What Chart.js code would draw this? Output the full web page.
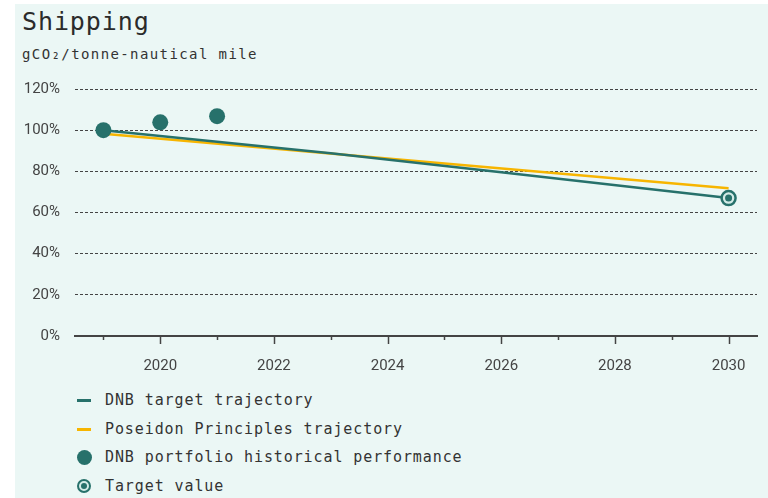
<!DOCTYPE html>
<html>
<head>
<meta charset="utf-8">
<script src="https://cdn.jsdelivr.net/npm/chart.js@4/dist/chart.umd.min.js"></script>
<style>
  html, body { margin: 0; padding: 0; background: #fff; }
  body { width: 768px; height: 498px; position: relative; overflow: hidden; }
  .panel { position: absolute; left: 15px; top: 4px; width: 753px; height: 494px; background: #ebf7f5; }
  .mono { font-family: "DejaVu Sans Mono", monospace; color: #2b2b2b; }
  .title { position: absolute; left: 7px; top: 3px; font-size: 25px; letter-spacing: 0.9px; }
  .sub { position: absolute; left: 7px; top: 42px; font-size: 14px; letter-spacing: 1.4px; color: #333; }
  .chartbox { position: absolute; left: 0; top: 61px; width: 753px; height: 317px; }
  .legend { position: absolute; left: 62px; top: 382px; }
  .legend div { position: relative; height: 28.7px; line-height: 28.7px; padding-left: 28px; font-size: 15px; letter-spacing: 0.9px; color: #333; }
  .legend i { position: absolute; left: 0; top: 50%; display: block; }
  .ln { width: 14px; height: 3px; margin-top: -1.5px; }
  .dot { width: 15px; height: 15px; margin-top: -7.5px; left: 0 !important; border-radius: 50%; }
  .ring { width: 10px; height: 10px; margin-top: -7.5px; border-radius: 50%; border: 2.5px solid #27716b; background: #d3ebe7; }
  .ring::after { content: ""; position: absolute; left: 2px; top: 2px; width: 6px; height: 6px; border-radius: 50%; background: #27716b; }
</style>
</head>
<body>
<div class="panel">
  <div class="title mono">Shipping</div>
  <div class="sub mono">gCO₂/tonne-nautical mile</div>
  <div class="chartbox"><canvas id="c"></canvas></div>
  <div class="legend mono">
    <div><i class="ln" style="background:#27716b"></i>DNB target trajectory</div>
    <div><i class="ln" style="background:#f7b500"></i>Poseidon Principles trajectory</div>
    <div><i class="dot" style="background:#27716b"></i>DNB portfolio historical performance</div>
    <div><i class="ring"></i>Target value</div>
  </div>
</div>
<script>
var teal = '#27716b';
var yellow = '#f7b500';

// DNB target trajectory (% of 2019 level)
var targetYears = [2019, 2023, 2026, 2030];
var targetValues = [100, 88.8, 79.5, 67];

// Poseidon Principles trajectory
var poseidonYears = [2019, 2030];
var poseidonValues = [98.3, 71.8];

// DNB portfolio historical performance
var histYears = [2019, 2020, 2021];
var histValues = [100, 103.8, 106.8];

// Target value
var goalYears = [2030];
var goalValues = [67];

var yTicks = [0, 20, 40, 60, 80, 100, 120];

function pts(xs, ys) { return xs.map(function (x, i) { return { x: x, y: ys[i] }; }); }

// Year tick marks: long on even (labelled) years, short on the others.
var tickMarks = {
    id: 'tickMarks',
    afterDraw: function (chart) {
        var s = chart.scales.x, ctx = chart.ctx;
        ctx.save();
        ctx.strokeStyle = '#444'; ctx.lineWidth = 1.5;
        s.ticks.forEach(function (t) {
            var px = Math.round(s.getPixelForValue(t.value)) + 0.5;
            var len = t.value % 2 === 0 ? 8 : 4;
            ctx.beginPath(); ctx.moveTo(px, s.top); ctx.lineTo(px, s.top + len); ctx.stroke();
        });
        ctx.restore();
    }
};

new Chart(document.getElementById('c'), {
    type: 'scatter',
    data: { datasets: [
        { type: 'line', data: pts(poseidonYears, poseidonValues), borderColor: yellow, borderWidth: 2.5, pointRadius: 0, order: 4 },
        { type: 'line', data: pts(targetYears, targetValues), borderColor: teal, borderWidth: 2.5, pointRadius: 0, order: 3 },
        { data: pts(histYears, histValues), backgroundColor: teal, borderWidth: 0, pointRadius: 8, order: 2 },
        { data: pts(goalYears, goalValues), backgroundColor: '#d3ebe7', borderColor: teal, borderWidth: 2.5, pointRadius: 7, order: 1 },
        { data: pts(goalYears, goalValues), backgroundColor: teal, borderWidth: 0, pointRadius: 3.5, order: 0 }
    ] },
    options: {
        responsive: true, maintainAspectRatio: false, animation: false,
        layout: { padding: { left: 0, right: 11, top: 13, bottom: 0 } },
        plugins: { legend: { display: false }, tooltip: { enabled: false } },
        scales: {
            x: {
                type: 'linear', min: 2018.5, max: 2030.5,
                afterBuildTicks: function (s) {
                    var t = []; for (var y = 2019; y <= 2030; y++) t.push({ value: y }); s.ticks = t;
                },
                afterFit: function (s) { s.height = 46; },
                grid: { display: true, drawOnChartArea: false, tickLength: 8, tickColor: 'transparent' },
                border: { display: true, color: '#444', width: 2 },
                ticks: {
                    padding: 13, color: '#444', font: { family: 'Roboto', size: 15 },
                    autoSkip: false, maxRotation: 0,
                    callback: function (v) { return v % 2 === 0 ? String(v) : ''; }
                }
            },
            y: {
                min: 0, max: 120,
                afterBuildTicks: function (s) { s.ticks = yTicks.map(function (v) { return { value: v }; }); },
                afterFit: function (s) { s.width = 60; },
                grid: { color: '#444', lineWidth: 1, drawTicks: false },
                border: { display: false, dash: [3, 2] },
                ticks: { padding: 15, color: '#444', font: { family: 'Roboto', size: 15 },
                    callback: function (v) { return v + '%'; } }
            }
        }
    },
    plugins: [tickMarks]
});
</script>
</body>
</html>
